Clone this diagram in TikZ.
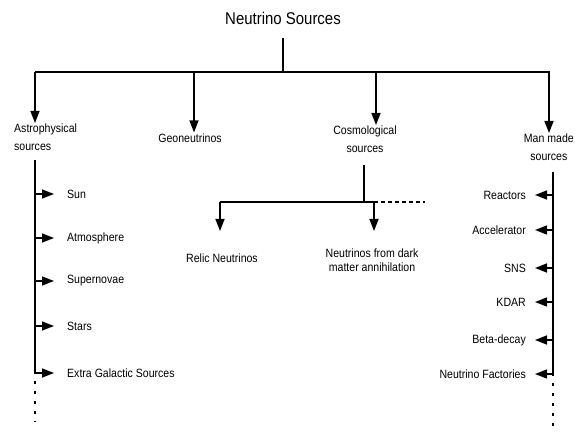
\documentclass[tikz,border=0pt]{standalone}
\usepackage{fontspec}
\setmainfont{Liberation Sans}[FakeStretch=0.88]
\usetikzlibrary{arrows.meta}
\usetikzlibrary{positioning}
\tikzset{x=1pt, y=-1pt,
	title/.style={font=\fontsize{17}{19}\selectfont, inner sep=1pt},
	cat/.style={font=\fontsize{12}{17.5}\selectfont, align=center, inner sep=1pt},
	leaf/.style={font=\fontsize{12}{14}\selectfont, inner sep=1pt},
	bus/.style={line width=2.6pt},
	stem/.style={line width=1.5pt},
	arr/.style={line width=1.5pt, -{Triangle[length=12pt,width=9pt]}},
	dots/.style={line width=1.5pt, dash pattern=on 3pt off 7pt},
	dash line/.style={line width=1.5pt, dash pattern=on 3.5pt off 3.5pt}
}

\begin{document}
\begin{tikzpicture}
	\useasboundingbox (0,0) rectangle (575,438);
	% top level
	\node[title] (root) at (283,18) {Neutrino Sources};
	\coordinate (rootTop) at (283,38);
	\coordinate (busL) at (35,72);
	\coordinate (busR) at (550,72);
	\draw[stem] (rootTop) -- (rootTop |- busL);
	\draw[bus] (busL) -- (busR);
	% categories
	\node[cat, align=left, anchor=north west] (astro) at (13,123) {Astrophysical\\sources};
	\node[cat] (geo) at (190,138) {Geoneutrinos};
	\node[cat, anchor=north] (cosmo) at (365,125) {Cosmological\\sources};
	\node[cat, anchor=north east] (man) at (575,133) {Man made\\sources};
	\draw[arr] (busL) -- (busL |- astro.north);
	\draw[arr] (194,72) -- (194,72 |- geo.north);
	\draw[arr] (376,72) -- (376,72 |- cosmo.north);
	\draw[arr] (549,72) -- (549,72 |- man.north);
	% astrophysical sources
	\coordinate (astroTop) at (35,160);
	\coordinate (astroEnd) at (35,374);
	\coordinate (astroDot) at (35,422);
	\draw[stem] (astroTop) -- (astroEnd);
	\draw[dots] (astroEnd) ++(0,7) -- (astroDot);
	\node[leaf, anchor=west, inner xsep=13pt] (sun) at (54,194) {Sun};
	\node[leaf, anchor=west, inner xsep=13pt] (atm) at (54,238) {Atmosphere};
	\node[leaf, anchor=west, inner xsep=13pt] (sn) at (54,281) {Supernovae};
	\node[leaf, anchor=west, inner xsep=13pt] (stars) at (54,326) {Stars};
	\node[leaf, anchor=west, inner xsep=13pt] (egs) at (54,373) {Extra Galactic Sources};
	\draw[arr] (astroTop |- sun) -- (sun.west);
	\draw[arr] (astroTop |- atm) -- (atm.west);
	\draw[arr] (astroTop |- sn) -- (sn.west);
	\draw[arr] (astroTop |- stars) -- (stars.west);
	\draw[arr] (astroTop |- egs) -- (egs.west);
	% cosmological sources
	\coordinate (cosmoTop) at (364,165);
	\coordinate (cosmoJ) at (364,202);
	\coordinate (cosmoL) at (220,202);
	\coordinate (cosmoR) at (378,202);
	\coordinate (cosmoDot) at (425,202);
	\draw[stem] (cosmoTop) -- (cosmoJ);
	\draw[stem] (cosmoL) -- (cosmoR);
	\draw[dash line] (cosmoR) ++(3,0) -- (cosmoDot);
	\node[leaf] (relic) at (222,258) {Relic Neutrinos};
	\node[leaf, align=center] (dark) at (372,260) {Neutrinos from dark\\matter annihilation};
	\draw[arr] (cosmoL) -- (220,231);
	\draw[arr] (374,202) -- (374,231);
	% man made sources
	\coordinate (manTop) at (553,172);
	\coordinate (manEnd) at (553,376);
	\coordinate (manDot) at (553,426);
	\draw[stem] (manTop) -- (manEnd);
	\draw[dots] (manEnd) ++(0,7) -- (manDot);
	\node[leaf, anchor=east, inner xsep=9pt] (reac) at (535,195) {Reactors};
	\node[leaf, anchor=east, inner xsep=9pt] (acc) at (535,230) {Accelerator};
	\node[leaf, anchor=east, inner xsep=9pt] (sns) at (535,268) {SNS};
	\node[leaf, anchor=east, inner xsep=9pt] (kdar) at (535,302) {KDAR};
	\node[leaf, anchor=east, inner xsep=9pt] (beta) at (535,340) {Beta-decay};
	\node[leaf, anchor=east, inner xsep=9pt] (fact) at (535,374) {Neutrino Factories};
	\draw[arr] (manTop |- reac) -- (reac.east);
	\draw[arr] (manTop |- acc) -- (acc.east);
	\draw[arr] (manTop |- sns) -- (sns.east);
	\draw[arr] (manTop |- kdar) -- (kdar.east);
	\draw[arr] (manTop |- beta) -- (beta.east);
	\draw[arr] (manTop |- fact) -- (fact.east);
\end{tikzpicture}
\end{document}
